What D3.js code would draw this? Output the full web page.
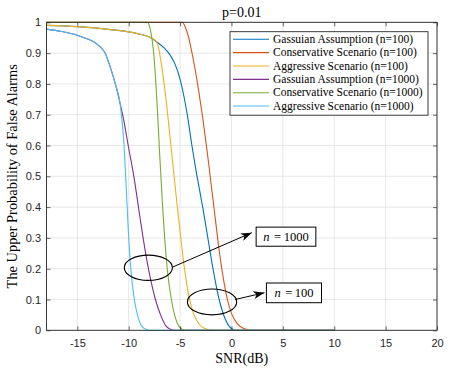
<!DOCTYPE html>
<html>
<head>
<meta charset="UTF-8">
<title>Upper Probability of False Alarms</title>
<style>
  body { margin: 0; background: #fff; }
  .tick text { font-family: "Liberation Sans", Arial, sans-serif; font-size: 11px; fill: #262626; }
  .tick line { stroke: #262626; stroke-width: 0.7; }
  .domain { stroke: none; }
  .serif { font-family: "Liberation Serif", "Times New Roman", serif; fill: #000; }
</style>
</head>
<body>
<div id="chart"></div>
<script src="https://d3js.org/d3.v7.min.js"></script>
<script>
// ---- data ----
var seriesNames = ["Gassuian Assumption (n=100)", "Conservative Scenario (n=100)", "Aggressive Scenario (n=100)",
                   "Gassuian Assumption (n=1000)", "Conservative Scenario (n=1000)", "Aggressive Scenario (n=1000)"];
var seriesColors = ["#0072BD", "#D95319", "#EDB120", "#7E2F8E", "#77AC30", "#4DBEEE"];

var gauss100Snr = [-18, -15, -12, -10, -9, -8, -7.3, -6.5, -6.0, -5.5, -5.0, -4.6, -4.3, -3.85, -3.35, -2.8, -2.3, -1.8, -1.2, -0.6, -0.2, 0.2, 0.6, 10];
var gauss100Pfa = [0.990, 0.986, 0.977, 0.969, 0.962, 0.952, 0.937, 0.915, 0.895, 0.865, 0.815, 0.755, 0.7, 0.6, 0.5, 0.4, 0.3, 0.2, 0.1, 0.036, 0.012, 0.002, 0, 0];

var cons100Snr = [-18, -4.8, -4.5, -4.2, -3.9, -3.55, -3.2, -2.8, -2.4, -2.0, -1.6, -1.2, -0.8, -0.4, 0, 0.5, 1.0, 1.6, 2.3, 10];
var cons100Pfa = [1, 1, 0.985, 0.955, 0.91, 0.85, 0.78, 0.69, 0.59, 0.48, 0.37, 0.26, 0.17, 0.1, 0.055, 0.024, 0.009, 0.002, 0, 0];

var aggr100Snr = [-18, -15, -12, -10, -9, -8, -7.3, -7.05, -6.8, -6.55, -6.3, -6.05, -5.8, -5.55, -5.3, -5.0, -4.65, -4.2, -3.7, -3.1, -2.4, -1.8, 10];
var aggr100Pfa = [0.990, 0.986, 0.977, 0.969, 0.962, 0.952, 0.937, 0.91, 0.86, 0.8, 0.73, 0.65, 0.57, 0.49, 0.41, 0.32, 0.22, 0.12, 0.055, 0.018, 0.003, 0, 0];

var gauss1000Snr = [-18, -16.5, -15, -14, -13, -12.3, -11.82, -11.3, -10.84, -10.5, -10.05, -9.5, -9.05, -8.6, -8.08, -7.4, -6.9, -6.4, -6.0, -5.5, 10];
var gauss1000Pfa = [0.978, 0.97, 0.958, 0.946, 0.927, 0.9, 0.857, 0.8, 0.737, 0.685, 0.6, 0.5, 0.4, 0.3, 0.2, 0.1, 0.05, 0.015, 0.004, 0, 0];

var cons1000Snr = [-18, -8.2, -8.0, -7.8, -7.6, -7.45, -7.3, -7.15, -7.0, -6.85, -6.7, -6.5, -6.25, -5.85, -5.5, -5.1, -4.7, -4.3, 10];
var cons1000Pfa = [1, 1, 0.99, 0.96, 0.91, 0.85, 0.77, 0.68, 0.58, 0.49, 0.4, 0.3, 0.2, 0.1, 0.045, 0.012, 0.002, 0, 0];

var aggr1000Snr = [-18, -16.5, -15, -14, -13, -12.3, -11.82, -11.3, -10.84, -10.65, -10.45, -10.3, -10.15, -10.0, -9.8, -9.45, -9.15, -8.7, -8.2, -7.8, 10];
var aggr1000Pfa = [0.978, 0.97, 0.958, 0.946, 0.927, 0.9, 0.857, 0.8, 0.737, 0.68, 0.6, 0.5, 0.4, 0.3, 0.2, 0.1, 0.05, 0.012, 0.002, 0, 0];

var xTicks = [-15, -10, -5, 0, 5, 10, 15, 20];
var xTickLabels = ["-15", "-10", "-5", "0", "5", "10", "15", "20"];
var yTicks = [0, 0.1, 0.2, 0.3, 0.4, 0.5, 0.6, 0.7, 0.8, 0.9, 1];
var yTickLabels = ["0", "0.1", "0.2", "0.3", "0.4", "0.5", "0.6", "0.7", "0.8", "0.9", "1"];

// annotations in data units: ellipse centre / half widths, arrow from/to, label box
var noteLabels = ["1000", "100"];
var noteEllipses = [[-8.09, 0.203, 2.34, 0.041], [-1.89, 0.092, 2.4, 0.042]];
var noteArrows = [[-5.75, 0.205, 1.98, 0.317], [0.35, 0.1, 3.21, 0.122]];
var noteBoxes = [[2.4, 0.335, 8.21, 0.273], [3.4, 0.1536, 8.76, 0.0896]];

// ---- layout ----
var W = 450, H = 372;
var padL = 46.5, padR = 437, padT = 22.3, padB = 330.3;

var series = [
  [gauss100Snr, gauss100Pfa], [cons100Snr, cons100Pfa], [aggr100Snr, aggr100Pfa],
  [gauss1000Snr, gauss1000Pfa], [cons1000Snr, cons1000Pfa], [aggr1000Snr, aggr1000Pfa]
];

var svg = d3.select("#chart").append("svg")
  .attr("width", W).attr("height", H)
  .style("display", "block");

svg.append("rect").attr("width", W).attr("height", H).attr("fill", "#fff");

var x = d3.scaleLinear().domain([-18, 20]).range([padL, padR]);
var y = d3.scaleLinear().domain([0, 1]).range([padB, padT]);

// grid
var grid = svg.append("g").attr("stroke", "#e1e1e1").attr("stroke-width", 0.8);
grid.selectAll("line.gx").data(xTicks).enter().append("line")
  .attr("x1", function(d){ return x(d); }).attr("x2", function(d){ return x(d); })
  .attr("y1", padT).attr("y2", padB);
grid.selectAll("line.gy").data(yTicks).enter().append("line")
  .attr("x1", padL).attr("x2", padR)
  .attr("y1", function(d){ return y(d); }).attr("y2", function(d){ return y(d); });

// curves
var line = d3.line()
  .x(function(d){ return x(d[0]); })
  .y(function(d){ return y(d[1]); })
  .curve(d3.curveMonotoneX);

var curves = svg.append("g").attr("fill", "none").attr("stroke-width", 1.1);
series.forEach(function(s, i){
  var pts = s[0].map(function(v, j){ return [v, s[1][j]]; });
  curves.append("path").attr("d", line(pts)).attr("stroke", seriesColors[i]);
});

// axes (ticks inward, box on)
svg.append("g").attr("transform", "translate(0," + padB + ")")
  .call(d3.axisBottom(x).tickValues(xTicks).tickSize(-4).tickPadding(8.5)
    .tickFormat(function(d, i){ return xTickLabels[i]; }));
svg.append("g").attr("transform", "translate(0," + padT + ")")
  .call(d3.axisTop(x).tickValues(xTicks).tickSize(-4).tickFormat(""));
svg.append("g").attr("transform", "translate(" + padL + ",0)")
  .call(d3.axisLeft(y).tickValues(yTicks).tickSize(-4).tickPadding(5.5)
    .tickFormat(function(d, i){ return yTickLabels[i]; }));
svg.append("g").attr("transform", "translate(" + padR + ",0)")
  .call(d3.axisRight(y).tickValues(yTicks).tickSize(-4).tickFormat(""));

svg.append("rect")
  .attr("x", padL).attr("y", padT)
  .attr("width", padR - padL).attr("height", padB - padT)
  .attr("fill", "none").attr("stroke", "#262626").attr("stroke-width", 0.9);

// titles
svg.append("text").attr("class", "serif")
  .attr("x", (padL + padR) / 2).attr("y", 17)
  .attr("text-anchor", "middle").attr("font-size", 14)
  .text("p=0.01");
svg.append("text").attr("class", "serif")
  .attr("x", (padL + padR) / 2).attr("y", 362.5)
  .attr("text-anchor", "middle").attr("font-size", 14)
  .text("SNR(dB)");
svg.append("text").attr("class", "serif")
  .attr("transform", "translate(17," + ((padT + padB) / 2) + ") rotate(-90)")
  .attr("text-anchor", "middle").attr("font-size", 14.4)
  .text("The Upper Probability of False Alarms");

// annotations
svg.append("defs").append("marker")
  .attr("id", "head").attr("viewBox", "-11 -5 12 10")
  .attr("refX", 0).attr("refY", 0)
  .attr("markerWidth", 12).attr("markerHeight", 10)
  .attr("markerUnits", "userSpaceOnUse")
  .attr("orient", "auto")
  .append("path").attr("d", "M0,0 L-11,-4 L-8,0 L-11,4 Z").attr("fill", "#000");

var notes = svg.append("g");
noteEllipses.forEach(function(e){
  notes.append("ellipse")
    .attr("cx", x(e[0])).attr("cy", y(e[1]))
    .attr("rx", x(e[0] + e[2]) - x(e[0])).attr("ry", y(e[1] - e[3]) - y(e[1]))
    .attr("fill", "none").attr("stroke", "#000").attr("stroke-width", 1.1);
});
noteArrows.forEach(function(a){
  notes.append("line")
    .attr("x1", x(a[0])).attr("y1", y(a[1]))
    .attr("x2", x(a[2])).attr("y2", y(a[3]))
    .attr("stroke", "#000").attr("stroke-width", 1)
    .attr("marker-end", "url(#head)");
});
noteBoxes.forEach(function(b, i){
  notes.append("rect")
    .attr("x", x(b[0])).attr("y", y(b[1]))
    .attr("width", x(b[2]) - x(b[0])).attr("height", y(b[3]) - y(b[1]))
    .attr("fill", "#fff").attr("stroke", "#000").attr("stroke-width", 1);
  var t = notes.append("text").attr("class", "serif")
    .attr("x", (x(b[0]) + x(b[2])) / 2).attr("y", (y(b[1]) + y(b[3])) / 2)
    .attr("dy", "0.35em").attr("text-anchor", "middle").attr("font-size", 12.5);
  t.append("tspan").attr("font-style", "italic").text("n");
  t.append("tspan").text("\u2009=\u2009" + noteLabels[i]).attr("dx", 2);
});

// legend
var lg = svg.append("g").attr("transform", "translate(230,31.7)");
lg.append("rect").attr("width", 198).attr("height", 83.5)
  .attr("fill", "#fff").attr("stroke", "#262626").attr("stroke-width", 0.9);
seriesNames.forEach(function(name, i){
  var yy = 7.6 + i * 13.35;
  lg.append("line").attr("x1", 3).attr("x2", 39).attr("y1", yy).attr("y2", yy)
    .attr("stroke", seriesColors[i]).attr("stroke-width", 1.1);
  lg.append("text").attr("class", "serif")
    .attr("x", 43).attr("y", yy).attr("dy", "0.33em")
    .attr("font-size", 11.5).text(name);
});
</script>
</body>
</html>
